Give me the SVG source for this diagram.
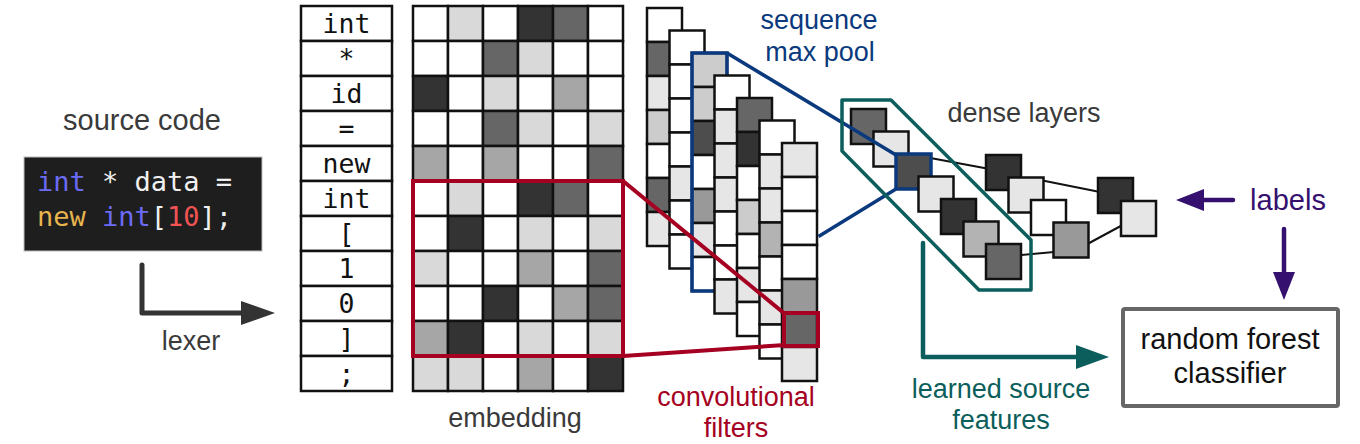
<svg xmlns="http://www.w3.org/2000/svg" width="1360" height="444" viewBox="0 0 1360 444">
<defs>
<style>
.cell{stroke:#111;stroke-width:2.5}
.w{fill:#fff}.l{fill:#d9d9d9}.m{fill:#a6a6a6}.d{fill:#666}.k{fill:#333}
.g1{fill:#e6e6e6}.g2{fill:#ccc}.g3{fill:#b3b3b3}.g4{fill:#999}.g6{fill:#4d4d4d}
.sans{font-family:"Liberation Sans",Arial,Helvetica,sans-serif}
.mono{font-family:"DejaVu Sans Mono","Liberation Mono",monospace}
.tok{font-size:26.5px;fill:#111;text-anchor:middle}
.lbl{font-size:27px;text-anchor:middle}
.gray{fill:#3a3a3a}
.red{fill:#a50021}.blue{fill:#0a3a7d}.teal{fill:#0b5e5b}.purple{fill:#35106e}
.dl{stroke:#111;stroke-width:2;fill:none}
</style>
<marker id="ah-dark" markerUnits="userSpaceOnUse" viewBox="0 0 34 24" markerWidth="34" markerHeight="24" refX="4" refY="12" orient="auto"><path d="M0,0 L34,12 L0,24 z" fill="#333"/></marker>
<marker id="ah-teal" markerUnits="userSpaceOnUse" viewBox="0 0 33 24" markerWidth="33" markerHeight="24" refX="4" refY="12" orient="auto"><path d="M0,0 L33,12 L0,24 z" fill="#0b5e5b"/></marker>
<marker id="ah-purple" markerUnits="userSpaceOnUse" viewBox="0 0 28 22" markerWidth="28" markerHeight="22" refX="3" refY="11" orient="auto"><path d="M0,0 L28,11 L0,22 z" fill="#35106e"/></marker>
</defs>
<rect width="1360" height="444" fill="#fff"/>

<!-- source code -->
<g id="source-code">
<text class="sans gray" x="142" y="130" font-size="29" text-anchor="middle">source code</text>
<rect x="24" y="157" width="238" height="94" fill="#1e1e1e" stroke="#bbb" stroke-width="1"/>
<text class="mono" x="37" y="191" font-size="27" fill="#f0f0f0"><tspan fill="#6b6bf5">int</tspan> * data =</text>
<text class="mono" x="37" y="226" font-size="27" fill="#f0f0f0"><tspan fill="#e8b54e">new</tspan> <tspan fill="#6b6bf5">int</tspan>[<tspan fill="#f25454">10</tspan>];</text>
</g>

<!-- tokens -->
<g id="tokens">
<rect class="cell w" x="301" y="6" width="91" height="35"/>
<rect class="cell w" x="301" y="41" width="91" height="35"/>
<rect class="cell w" x="301" y="76" width="91" height="35"/>
<rect class="cell w" x="301" y="111" width="91" height="35"/>
<rect class="cell w" x="301" y="146" width="91" height="35"/>
<rect class="cell w" x="301" y="181" width="91" height="35"/>
<rect class="cell w" x="301" y="216" width="91" height="35"/>
<rect class="cell w" x="301" y="251" width="91" height="35"/>
<rect class="cell w" x="301" y="286" width="91" height="35"/>
<rect class="cell w" x="301" y="321" width="91" height="35"/>
<rect class="cell w" x="301" y="356" width="91" height="35"/>
<text class="mono tok" x="346.5" y="33">int</text>
<text class="mono tok" x="346.5" y="68">*</text>
<text class="mono tok" x="346.5" y="103">id</text>
<text class="mono tok" x="346.5" y="138">=</text>
<text class="mono tok" x="346.5" y="173">new</text>
<text class="mono tok" x="346.5" y="208">int</text>
<text class="mono tok" x="346.5" y="243">[</text>
<text class="mono tok" x="346.5" y="278">1</text>
<text class="mono tok" x="346.5" y="313">0</text>
<text class="mono tok" x="346.5" y="348">]</text>
<text class="mono tok" x="346.5" y="383">;</text>
</g>

<!-- embedding -->
<g id="embedding">
<g transform="translate(413,6)">
<rect class="cell w" x="0" y="0" width="35" height="35"/><rect class="cell l" x="35" y="0" width="35" height="35"/><rect class="cell w" x="70" y="0" width="35" height="35"/><rect class="cell k" x="105" y="0" width="35" height="35"/><rect class="cell d" x="140" y="0" width="35" height="35"/><rect class="cell w" x="175" y="0" width="35" height="35"/>
<rect class="cell w" x="0" y="35" width="35" height="35"/><rect class="cell w" x="35" y="35" width="35" height="35"/><rect class="cell d" x="70" y="35" width="35" height="35"/><rect class="cell l" x="105" y="35" width="35" height="35"/><rect class="cell w" x="140" y="35" width="35" height="35"/><rect class="cell w" x="175" y="35" width="35" height="35"/>
<rect class="cell k" x="0" y="70" width="35" height="35"/><rect class="cell w" x="35" y="70" width="35" height="35"/><rect class="cell l" x="70" y="70" width="35" height="35"/><rect class="cell w" x="105" y="70" width="35" height="35"/><rect class="cell m" x="140" y="70" width="35" height="35"/><rect class="cell w" x="175" y="70" width="35" height="35"/>
<rect class="cell w" x="0" y="105" width="35" height="35"/><rect class="cell w" x="35" y="105" width="35" height="35"/><rect class="cell d" x="70" y="105" width="35" height="35"/><rect class="cell l" x="105" y="105" width="35" height="35"/><rect class="cell w" x="140" y="105" width="35" height="35"/><rect class="cell l" x="175" y="105" width="35" height="35"/>
<rect class="cell m" x="0" y="140" width="35" height="35"/><rect class="cell w" x="35" y="140" width="35" height="35"/><rect class="cell m" x="70" y="140" width="35" height="35"/><rect class="cell w" x="105" y="140" width="35" height="35"/><rect class="cell w" x="140" y="140" width="35" height="35"/><rect class="cell d" x="175" y="140" width="35" height="35"/>
<rect class="cell w" x="0" y="175" width="35" height="35"/><rect class="cell l" x="35" y="175" width="35" height="35"/><rect class="cell w" x="70" y="175" width="35" height="35"/><rect class="cell k" x="105" y="175" width="35" height="35"/><rect class="cell d" x="140" y="175" width="35" height="35"/><rect class="cell w" x="175" y="175" width="35" height="35"/>
<rect class="cell w" x="0" y="210" width="35" height="35"/><rect class="cell k" x="35" y="210" width="35" height="35"/><rect class="cell w" x="70" y="210" width="35" height="35"/><rect class="cell l" x="105" y="210" width="35" height="35"/><rect class="cell w" x="140" y="210" width="35" height="35"/><rect class="cell l" x="175" y="210" width="35" height="35"/>
<rect class="cell l" x="0" y="245" width="35" height="35"/><rect class="cell w" x="35" y="245" width="35" height="35"/><rect class="cell w" x="70" y="245" width="35" height="35"/><rect class="cell m" x="105" y="245" width="35" height="35"/><rect class="cell w" x="140" y="245" width="35" height="35"/><rect class="cell d" x="175" y="245" width="35" height="35"/>
<rect class="cell w" x="0" y="280" width="35" height="35"/><rect class="cell w" x="35" y="280" width="35" height="35"/><rect class="cell k" x="70" y="280" width="35" height="35"/><rect class="cell w" x="105" y="280" width="35" height="35"/><rect class="cell m" x="140" y="280" width="35" height="35"/><rect class="cell d" x="175" y="280" width="35" height="35"/>
<rect class="cell m" x="0" y="315" width="35" height="35"/><rect class="cell k" x="35" y="315" width="35" height="35"/><rect class="cell w" x="70" y="315" width="35" height="35"/><rect class="cell l" x="105" y="315" width="35" height="35"/><rect class="cell w" x="140" y="315" width="35" height="35"/><rect class="cell l" x="175" y="315" width="35" height="35"/>
<rect class="cell l" x="0" y="350" width="35" height="35"/><rect class="cell l" x="35" y="350" width="35" height="35"/><rect class="cell w" x="70" y="350" width="35" height="35"/><rect class="cell m" x="105" y="350" width="35" height="35"/><rect class="cell w" x="140" y="350" width="35" height="35"/><rect class="cell k" x="175" y="350" width="35" height="35"/>
</g>
<text class="sans lbl gray" x="515" y="427">embedding</text>
</g>

<!-- convolutional filter maps -->
<g id="conv-maps">
<g transform="translate(647,8)">
<rect class="cell w" x="0" y="0" width="35" height="34"/><rect class="cell d" x="0" y="34" width="35" height="34"/><rect class="cell g1" x="0" y="68" width="35" height="34"/><rect class="cell g2" x="0" y="102" width="35" height="34"/><rect class="cell w" x="0" y="136" width="35" height="34"/><rect class="cell d" x="0" y="170" width="35" height="34"/><rect class="cell g1" x="0" y="204" width="35" height="34"/>
</g>
<g transform="translate(669.5,30.5)">
<rect class="cell w" x="0" y="0" width="35" height="34"/><rect class="cell w" x="0" y="34" width="35" height="34"/><rect class="cell w" x="0" y="68" width="35" height="34"/><rect class="cell w" x="0" y="102" width="35" height="34"/><rect class="cell g1" x="0" y="136" width="35" height="34"/><rect class="cell w" x="0" y="170" width="35" height="34"/><rect class="cell w" x="0" y="204" width="35" height="34"/>
</g>
<g transform="translate(692,53)">
<rect class="cell g2" x="0" y="0" width="35" height="34"/><rect class="cell g2" x="0" y="34" width="35" height="34"/><rect class="cell g6" x="0" y="68" width="35" height="34"/><rect class="cell w" x="0" y="102" width="35" height="34"/><rect class="cell g4" x="0" y="136" width="35" height="34"/><rect class="cell g1" x="0" y="170" width="35" height="34"/><rect class="cell w" x="0" y="204" width="35" height="34"/>
</g>
<g id="max-pool-window">
<rect x="692" y="53" width="35" height="238" fill="none" stroke="#0a3a7d" stroke-width="3.5"/>
</g>
<g transform="translate(714.5,75.5)">
<rect class="cell w" x="0" y="0" width="35" height="34"/><rect class="cell g1" x="0" y="34" width="35" height="34"/><rect class="cell g1" x="0" y="68" width="35" height="34"/><rect class="cell g1" x="0" y="102" width="35" height="34"/><rect class="cell w" x="0" y="136" width="35" height="34"/><rect class="cell w" x="0" y="170" width="35" height="34"/><rect class="cell g1" x="0" y="204" width="35" height="34"/>
</g>
<g transform="translate(737,98)">
<rect class="cell d" x="0" y="0" width="35" height="34"/><rect class="cell k" x="0" y="34" width="35" height="34"/><rect class="cell w" x="0" y="68" width="35" height="34"/><rect class="cell g2" x="0" y="102" width="35" height="34"/><rect class="cell w" x="0" y="136" width="35" height="34"/><rect class="cell g1" x="0" y="170" width="35" height="34"/><rect class="cell w" x="0" y="204" width="35" height="34"/>
</g>
<g transform="translate(759.5,120.5)">
<rect class="cell w" x="0" y="0" width="35" height="34"/><rect class="cell g1" x="0" y="34" width="35" height="34"/><rect class="cell g1" x="0" y="68" width="35" height="34"/><rect class="cell g3" x="0" y="102" width="35" height="34"/><rect class="cell w" x="0" y="136" width="35" height="34"/><rect class="cell g1" x="0" y="170" width="35" height="34"/><rect class="cell w" x="0" y="204" width="35" height="34"/>
</g>
<g transform="translate(782,143)">
<rect class="cell g1" x="0" y="0" width="35" height="34"/><rect class="cell w" x="0" y="34" width="35" height="34"/><rect class="cell w" x="0" y="68" width="35" height="34"/><rect class="cell w" x="0" y="102" width="35" height="34"/><rect class="cell g4" x="0" y="136" width="35" height="34"/><rect class="cell d" x="0" y="170" width="35" height="34"/><rect class="cell g1" x="0" y="204" width="35" height="34"/>
</g>
<text class="sans lbl red" x="736" y="406">convolutional</text>
<text class="sans lbl red" x="736" y="437">filters</text>
</g>

<!-- dense layers -->
<g id="dense-layers">
<g id="dense-links">
<line class="dl" x1="925" y1="157" x2="995" y2="170"/>
<line class="dl" x1="1010" y1="256" x2="1065" y2="251"/>
<line class="dl" x1="1035" y1="179" x2="1110" y2="194"/>
<line class="dl" x1="1080" y1="248" x2="1130" y2="221"/>
</g>
<rect class="cell d" x="851" y="109" width="35" height="35"/>
<rect class="cell g1" x="873.5" y="131.5" width="35" height="35"/>
<rect x="896" y="154" width="35" height="35" class="g6" stroke="#0a3a7d" stroke-width="3.5"/>
<rect class="cell g1" x="918.5" y="176.5" width="35" height="35"/>
<rect class="cell k" x="941" y="199" width="35" height="35"/>
<rect class="cell g3" x="963.5" y="221.5" width="35" height="35"/>
<rect class="cell d" x="986" y="244" width="35" height="35"/>
<rect class="cell k" x="986" y="155" width="35" height="35"/>
<rect class="cell g1" x="1008.5" y="177.5" width="35" height="35"/>
<rect class="cell w" x="1031" y="200" width="35" height="35"/>
<rect class="cell g4" x="1053.5" y="222.5" width="35" height="35"/>
<rect class="cell k" x="1098" y="178" width="35" height="35"/>
<rect class="cell g1" x="1121" y="201" width="35" height="35"/>
<text class="sans lbl gray" x="1024" y="122">dense layers</text>
</g>

<!-- connectors -->
<g id="connectors" fill="none">
<path d="M142,265 V313 H245" stroke="#333" stroke-width="5" stroke-linejoin="round" stroke-linecap="round" marker-end="url(#ah-dark)"/>
<rect x="413" y="181" width="210" height="175" stroke="#a50021" stroke-width="4"/>
<line x1="623" y1="181" x2="785" y2="314" stroke="#a50021" stroke-width="4"/>
<line x1="623" y1="356" x2="785" y2="345" stroke="#a50021" stroke-width="4"/>
<rect x="784" y="313" width="34" height="33" stroke="#a50021" stroke-width="4"/>
<path d="M727,53 L896,155" stroke="#0a3a7d" stroke-width="3.5"/>
<path d="M818.5,236.5 L896,189" stroke="#0a3a7d" stroke-width="3.5"/>
<path d="M842,100 L891,100 L1031,240 L1031,290 L979,290 L842,151 Z" stroke="#0b5e5b" stroke-width="3.5" stroke-linejoin="round"/>
<path d="M923,243 V357 H1080" stroke="#0b5e5b" stroke-width="4.5" stroke-linejoin="round" stroke-linecap="round" marker-end="url(#ah-teal)"/>
<path d="M1233,200 H1201" stroke="#35106e" stroke-width="4.5" stroke-linecap="round" marker-end="url(#ah-purple)"/>
<path d="M1284,229 V275" stroke="#35106e" stroke-width="4.5" stroke-linecap="round" marker-end="url(#ah-purple)"/>
</g>

<!-- labels -->
<g id="lexer-label"><text class="sans lbl gray" x="191" y="350">lexer</text></g>
<g id="seq-label">
<text class="sans lbl blue" x="819" y="29">sequence</text>
<text class="sans lbl blue" x="820" y="61">max pool</text>
</g>
<g id="learned-label">
<text class="sans lbl teal" x="1001" y="398">learned source</text>
<text class="sans lbl teal" x="1001" y="429">features</text>
</g>
<g id="labels-node"><text class="sans purple" x="1288" y="210" font-size="29" text-anchor="middle">labels</text></g>
<g id="classifier">
<rect x="1123" y="309" width="215" height="97" fill="#fff" stroke="#666" stroke-width="4" rx="2"/>
<text class="sans" x="1230" y="349" font-size="29" text-anchor="middle" fill="#111">random forest</text>
<text class="sans" x="1230" y="383" font-size="29" text-anchor="middle" fill="#111">classifier</text>
</g>
</svg>
